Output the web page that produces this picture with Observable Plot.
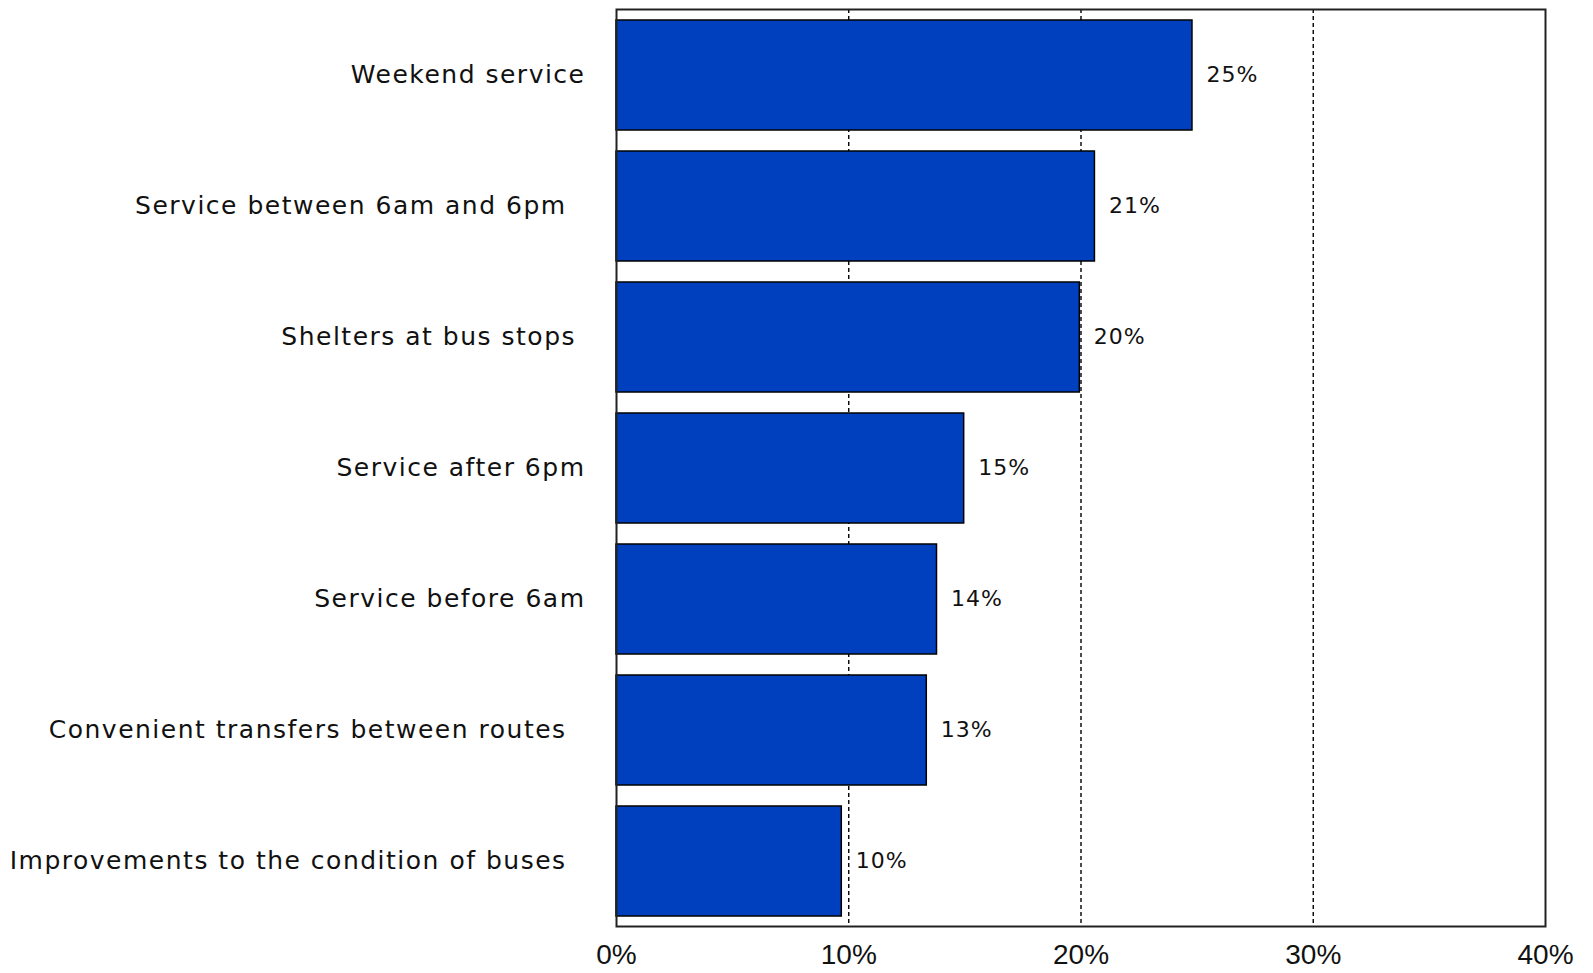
<!DOCTYPE html>
<html>
<head>
<meta charset="utf-8">
<script src="https://cdn.jsdelivr.net/npm/d3@7"></script>
<script src="https://cdn.jsdelivr.net/npm/@observablehq/plot@0.6"></script>
<style>
  html, body { margin: 0; padding: 0; background: #fff; }
  #chart g[aria-label="y-axis tick label"] text { letter-spacing: 1.5px; }
  #chart g[aria-label="text"] text { letter-spacing: 1px; }
</style>
</head>
<body>
<div id="chart"></div>
<script>
const categories = [
  "Weekend service",
  "Service between 6am and 6pm\u00a0\u00a0",
  "Shelters at bus stops\u00a0",
  "Service after 6pm",
  "Service before 6am",
  "Convenient transfers between routes\u00a0\u00a0",
  "Improvements to the condition of buses\u00a0\u00a0"
];
const values = [24.8, 20.6, 19.95, 14.97, 13.8, 13.36, 9.7];
const valueLabels = ["25%", "21%", "20%", "15%", "14%", "13%", "10%"];
const xTicks = [0, 10, 20, 30, 40];
const xTickLabels = ["0%", "10%", "20%", "30%", "40%"];
const gridValues = [10, 20, 30];

const data = categories.map((c, i) => ({category: c, value: values[i], label: valueLabels[i]}));

const chart = Plot.plot({
  width: 1593,
  height: 973,
  marginLeft: 616,
  marginRight: 48,
  marginTop: 9,
  marginBottom: 47,
  style: {fontFamily: "DejaVu Sans", fontSize: "25px", color: "#111", background: "#fff"},
  x: {domain: [0, 40]},
  y: {domain: categories, paddingInner: 0.162, paddingOuter: 0.08},
  marks: [
    Plot.ruleX(gridValues, {stroke: "#000", strokeWidth: 1.4, strokeDasharray: "4,3"}),
    Plot.barX(data, {x: "value", y: "category", fill: "#0040BF", stroke: "#000", strokeWidth: 1.5}),
    Plot.text(data, {x: "value", y: "category", text: "label", dx: 14, textAnchor: "start",
      fontSize: 22, fontFamily: "DejaVu Sans", fill: "#111", dy: -1}),
    Plot.frame({stroke: "#222", strokeWidth: 2}),
    Plot.axisY({tickSize: 0, tickPadding: 31, fontSize: 25, dy: -1, label: null}),
    Plot.axisX({ticks: xTicks, tickFormat: (d) => xTickLabels[xTicks.indexOf(d)], tickSize: 0,
      tickPadding: 18, fontSize: 28, fontFamily: "Liberation Sans", label: null})
  ]
});
document.getElementById("chart").appendChild(chart);
</script>
</body>
</html>
